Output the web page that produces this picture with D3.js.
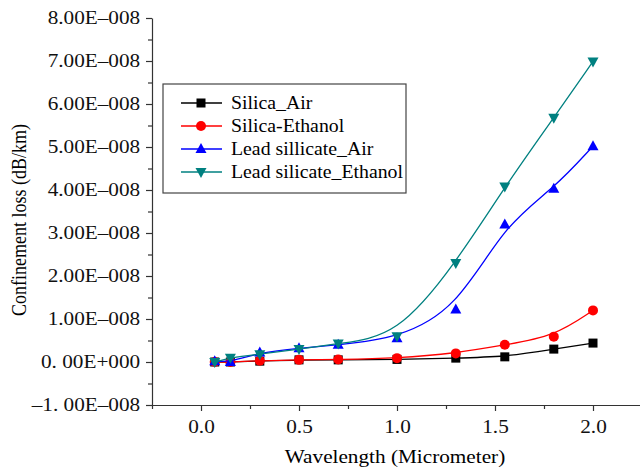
<!DOCTYPE html>
<html>
<head>
<meta charset="utf-8">
<script src="https://cdn.jsdelivr.net/npm/d3@7"></script>
</head>
<body style="margin:0;background:#fff">
<svg id="chart" width="640" height="469"></svg>
<script>
// data (loss in units of 1e-8 dB/km)
const wavelengths = [0.07, 0.15, 0.3, 0.5, 0.7, 1.0, 1.3, 1.55, 1.8, 2.0];
const silicaAir = [0.0, 0.0, 0.02, 0.05, 0.05, 0.06, 0.09, 0.12, 0.3, 0.44];
const silicaEthanol = [0.0, 0.0, 0.03, 0.05, 0.06, 0.09, 0.2, 0.4, 0.59, 1.2];
const leadAir = [0.02, 0.0, 0.22, 0.32, 0.4, 0.55, 1.22, 3.2, 4.03, 5.02];
const leadEthanol = [0.0, 0.1, 0.18, 0.3, 0.43, 0.6, 2.3, 4.08, 5.68, 6.99];

const seriesNames = ["Silica_Air", "Silica-Ethanol", "Lead sillicate_Air", "Lead silicate_Ethanol"];
const seriesColors = ["#000000", "#ff0000", "#0000ff", "#008080"];
const seriesSymbols = ["square", "circle", "up", "down"];

const xTicks = [0, 0.5, 1.0, 1.5, 2.0];
const xTickLabels = ["0.0", "0.5", "1.0", "1.5", "2.0"];
const yTicks = [-1, 0, 1, 2, 3, 4, 5, 6, 7, 8];
const yTickLabels = ["\u20131. 00E\u2013008", "0. 00E+000", "1.00E\u2013008", "2.00E\u2013008",
	"3.00E\u2013008", "4.00E\u2013008", "5.00E\u2013008", "6.00E\u2013008", "7.00E\u2013008", "8.00E\u2013008"];

const FONT = "'Liberation Serif', 'Times New Roman', serif";
const FSIZE = 18;
const STRETCH = 1.18; // the figure's text is a bit wider than plain Times
const LEGEND_STRETCH = 1.1;

const svg = d3.select("#chart");

var x = d3.scaleLinear().domain([-0.25, 2.25]).range([152, 642]);
var y = d3.scaleLinear().domain([-1, 8]).range([405, 18]);

function styleAxis(g) {
	g.selectAll("path, line").attr("stroke", "#333").attr("stroke-width", 1.2);
	g.selectAll("text")
		.style("font-family", FONT)
		.style("font-size", FSIZE + "px")
		.attr("fill", "#111")
		.attr("transform", `scale(${STRETCH},1)`);
}

// minor ticks first
svg.append("g")
	.attr("transform", "translate(0,405)")
	.call(d3.axisBottom(x).tickValues([-0.25, 0.25, 0.75, 1.25, 1.75, 2.25]).tickSize(4).tickFormat(""))
	.call(styleAxis)
	.select(".domain").remove();

svg.append("g")
	.attr("transform", "translate(152,0)")
	.call(d3.axisLeft(y).tickValues(d3.range(-0.5, 8, 1)).tickSize(4).tickFormat(""))
	.call(styleAxis)
	.select(".domain").remove();

// major axes
svg.append("g")
	.attr("transform", "translate(0,405)")
	.call(d3.axisBottom(x).tickValues(xTicks).tickSize(6).tickSizeOuter(0).tickPadding(9)
		.tickFormat((d, i) => xTickLabels[i]))
	.call(styleAxis);

svg.append("g")
	.attr("transform", "translate(152,0)")
	.call(d3.axisLeft(y).tickValues(yTicks).tickSize(6).tickSizeOuter(0).tickPadding(4)
		.tickFormat((d, i) => yTickLabels[i]))
	.call(styleAxis);

// axis titles
svg.append("text")
	.attr("transform", `translate(395,463) scale(${STRETCH},1)`)
	.attr("text-anchor", "middle")
	.style("font-family", FONT)
	.style("font-size", FSIZE + "px")
	.text("Wavelength (Micrometer)");

svg.append("text")
	.attr("transform", `translate(26,220) rotate(-90) scale(1,${STRETCH})`)
	.attr("text-anchor", "middle")
	.style("font-family", FONT)
	.style("font-size", FSIZE + "px")
	.text("Confinement loss (dB/km)");

// marker drawing
function drawSymbol(g, type, cx, cy, color) {
	if (type == "square") {
		g.append("rect")
			.attr("x", cx - 4.5).attr("y", cy - 4.5)
			.attr("width", 9).attr("height", 9)
			.attr("fill", color);
	} else if (type == "circle") {
		g.append("circle")
			.attr("cx", cx).attr("cy", cy).attr("r", 5)
			.attr("fill", color);
	} else if (type == "up") {
		g.append("path")
			.attr("d", `M${cx},${cy - 6}L${cx + 5.5},${cy + 4}L${cx - 5.5},${cy + 4}Z`)
			.attr("fill", color);
	} else {
		g.append("path")
			.attr("d", `M${cx},${cy + 6}L${cx + 5.5},${cy - 4}L${cx - 5.5},${cy - 4}Z`)
			.attr("fill", color);
	}
}

const allSeries = [silicaAir, silicaEthanol, leadAir, leadEthanol];

// Origin style B-spline: smooth, does not pass through every point
var line = d3.line()
	.x(d => x(d[0]))
	.y(d => y(d[1]))
	.curve(d3.curveBasis);

allSeries.forEach(function(vals, i) {
	let pts = wavelengths.map((w, j) => [w, vals[j]]);
	let g = svg.append("g");
	g.append("path")
		.attr("d", line(pts))
		.attr("fill", "none")
		.attr("stroke", seriesColors[i])
		.attr("stroke-width", 1.3);
	pts.forEach(p => drawSymbol(g, seriesSymbols[i], x(p[0]), y(p[1]), seriesColors[i]));
});

// legend
var legend = svg.append("g");
legend.append("rect")
	.attr("x", 163).attr("y", 84)
	.attr("width", 243).attr("height", 109)
	.attr("fill", "#fff")
	.attr("stroke", "#444")
	.attr("stroke-width", 1.2);

seriesNames.forEach(function(name, i) {
	let ly = 103 + i * 23;
	legend.append("line")
		.attr("x1", 181).attr("x2", 222)
		.attr("y1", ly).attr("y2", ly)
		.attr("stroke", seriesColors[i])
		.attr("stroke-width", 1.3);
	drawSymbol(legend, seriesSymbols[i], 201, ly, seriesColors[i]);
	legend.append("text")
		.attr("transform", `translate(231,${ly + 6}) scale(${LEGEND_STRETCH},1)`)
		.style("font-family", FONT)
		.style("font-size", FSIZE + "px")
		.text(name);
});
</script>
</body>
</html>
